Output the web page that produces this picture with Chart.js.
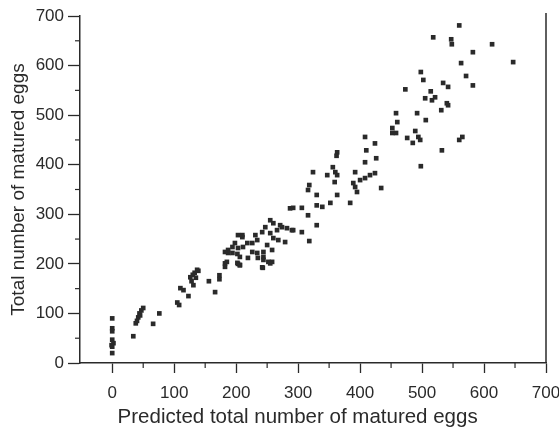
<!DOCTYPE html>
<html>
<head>
<meta charset="utf-8">
<script src="https://cdn.jsdelivr.net/npm/chart.js@4"></script>
<style>
  html, body { margin: 0; padding: 0; background: #fff; }
  #wrap { width: 559px; height: 432px; }
</style>
</head>
<body>
<div id="wrap"><canvas id="eggChart" width="559" height="432"></canvas></div>
<script>
const predicted = [
  0, 0, 0, 0, 2, 0, 0, -1,
  34, 38, 40, 42, 44, 47, 50, 45, 66, 76, 105, 108, 110, 115, 123,
  126, 130, 133, 137, 128, 131, 135, 139, 156, 173, 173, 166, 182, 187, 194, 203, 206,
  203, 210, 255, 260, 247, 242, 266, 274, 282, 290, 255, 260, 268, 279, 231, 234, 226, 210,
  218, 211, 203, 198, 194, 187, 182, 250, 244, 258, 226, 234, 202, 206, 235, 244, 185, 182,
  202, 206, 243, 252, 219, 258, 244, 255, 242, 271, 292, 306, 318, 330,
  287, 292, 306, 316, 330, 352, 339, 384, 363, 330, 318, 316, 389, 392, 395, 434, 424, 416,
  408, 400, 392, 347, 356, 360, 363, 359, 324, 363, 362, 408, 424, 410, 408, 426,
  502, 473, 534, 542, 514, 505, 516, 521, 540, 542, 531, 458, 492, 506, 460, 452, 452, 458,
  489, 476, 485, 494, 497, 532, 498, 560, 565,
  560, 518, 547, 548, 613, 582, 563, 647, 571, 582, 498
];
const observed = [
  90, 70, 64, 47, 40, 33, 20, 36,
  54, 80, 85, 92, 100, 106, 111, 96, 79, 100, 122, 117, 151, 147, 135,
  173, 178, 182, 188, 165, 157, 172, 186, 165, 177, 169, 143, 201, 222, 222, 200, 197,
  258, 254, 288, 282, 274, 264, 268, 274, 272, 268, 262, 252, 248, 244, 258, 248, 242, 258,
  242, 234, 232, 242, 234, 228, 224, 238, 224, 228, 224, 222, 220, 214, 212, 214, 204, 194,
  202, 198, 192, 204, 212, 204, 208, 201, 193, 278, 268, 264, 246, 278,
  312, 313, 313, 298, 318, 323, 315, 323, 339, 339, 359, 349, 363, 355, 345, 353, 383, 379,
  373, 369, 385, 379, 395, 385, 379, 365, 385, 425, 418, 456, 443, 429, 405, 413,
  571, 552, 565, 557, 548, 534, 530, 536, 524, 520, 510, 504, 504, 490, 486, 474, 464, 464,
  468, 454, 444, 456, 450, 429, 397, 450, 456,
  681, 657, 653, 643, 643, 627, 605, 607, 579, 560, 587
];

const xTitle = 'Predicted total number of matured eggs';
const yTitle = 'Total number of matured eggs';

const points = predicted.map((x, i) => ({x: x, y: observed[i]}));

const inkColor = '#2a2a2a';
const fontFamily = '"Liberation Sans", Arial, sans-serif';

// minor ticks at the 50s, the right-hand frame line and the x title
// (the original title sits a bit left of the plot centre)
const framePlugin = {
    id: 'frame',
    afterDraw(chart) {
        const ctx = chart.ctx;
        const area = chart.chartArea;
        const xs = chart.scales.x;
        const ys = chart.scales.y;
        ctx.save();
        ctx.strokeStyle = inkColor;
        ctx.lineWidth = 1.5;
        ctx.beginPath();
        ctx.moveTo(area.right, area.top - 3);
        ctx.lineTo(area.right, area.bottom);
        ctx.stroke();
        ctx.lineWidth = 1.2;
        for (let v = 50; v < 700; v += 100) {
            const px = xs.getPixelForValue(v);
            ctx.beginPath();
            ctx.moveTo(px, area.bottom);
            ctx.lineTo(px, area.bottom + 5);
            ctx.stroke();
            const py = ys.getPixelForValue(v);
            ctx.beginPath();
            ctx.moveTo(area.left, py);
            ctx.lineTo(area.left - 5, py);
            ctx.stroke();
        }
        ctx.fillStyle = inkColor;
        ctx.font = '20.5px ' + fontFamily;
        ctx.textAlign = 'center';
        ctx.textBaseline = 'middle';
        ctx.fillText(xTitle, area.left + (area.right - area.left) * 0.467, 417);
        ctx.restore();
    }
};

new Chart(document.getElementById('eggChart').getContext('2d'), {
    type: 'scatter',
    data: {
        datasets: [{
            data: points,
            pointStyle: 'rect',
            pointRadius: 3.3,
            pointHoverRadius: 3.3,
            backgroundColor: inkColor,
            borderColor: inkColor,
            borderWidth: 0
        }]
    },
    options: {
        responsive: false,
        animation: false,
        layout: {
            padding: {left: 0, top: 16, right: 13, bottom: 0}
        },
        plugins: {
            legend: {display: false},
            tooltip: {enabled: false}
        },
        scales: {
            x: {
                type: 'linear',
                min: -52,
                max: 700,
                afterBuildTicks: (scale) => {
                    scale.ticks = scale.ticks.filter(t => t.value % 100 === 0);
                },
                afterFit: (scale) => {
                    scale.height = 69;
                    scale.paddingLeft = 0;
                    scale.paddingRight = 0;
                },
                ticks: {
                    stepSize: 100,
                    includeBounds: false,
                    color: inkColor,
                    padding: 10,
                    maxRotation: 0,
                    font: {family: fontFamily, size: 17}
                },
                grid: {
                    drawOnChartArea: false,
                    drawTicks: true,
                    tickLength: 10,
                    tickColor: inkColor,
                    tickWidth: 1.3
                },
                border: {color: inkColor, width: 1.5}
            },
            y: {
                type: 'linear',
                min: 0,
                max: 700,
                afterFit: (scale) => {
                    scale.width = 80;
                    scale.paddingTop = 0;
                    scale.paddingBottom = 0;
                },
                ticks: {
                    stepSize: 100,
                    color: inkColor,
                    padding: 4,
                    font: {family: fontFamily, size: 17}
                },
                grid: {
                    drawOnChartArea: false,
                    drawTicks: true,
                    tickLength: 12,
                    tickColor: inkColor,
                    tickWidth: 1.3
                },
                border: {color: inkColor, width: 1.5},
                title: {
                    display: true,
                    text: yTitle,
                    color: inkColor,
                    padding: {top: 7, bottom: 0},
                    font: {family: fontFamily, size: 19}
                }
            }
        }
    },
    plugins: [framePlugin]
});
</script>
</body>
</html>
